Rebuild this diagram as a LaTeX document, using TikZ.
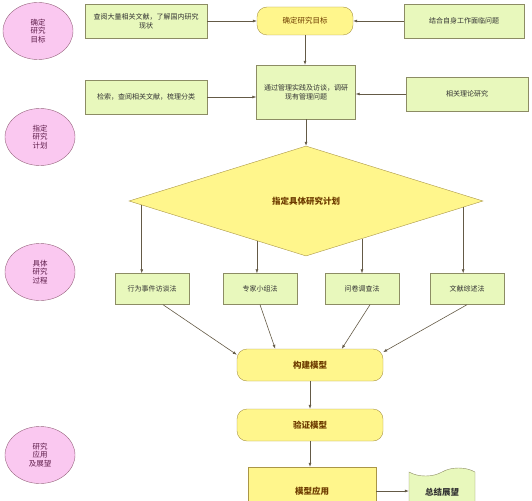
\documentclass[tikz,border=0pt]{standalone}
\usepackage{fontspec}
\setmainfont{Noto Sans CJK SC}
\usepackage{xcolor}
\usepackage{tikz}
\usetikzlibrary{arrows.meta,calc,shapes.geometric,shapes.symbols}
\definecolor{pinkfill}{RGB}{250,200,240}
\definecolor{pinkline}{RGB}{150,100,125}
\definecolor{pinktext}{RGB}{95,30,75}
\definecolor{greenfill}{RGB}{232,248,188}
\definecolor{greenline}{RGB}{140,140,100}
\definecolor{yelfill}{RGB}{255,246,140}
\definecolor{yelline}{RGB}{170,150,70}
\definecolor{yeltext}{RGB}{110,60,0}
\definecolor{arrline}{RGB}{100,90,70}
\tikzset{
  stage/.style={ellipse, draw=pinkline, fill=pinkfill, minimum width=70pt, minimum height=57pt, inner sep=0pt, text=pinktext, font=\fontsize{7.5}{8.5}\selectfont, align=center},
  task/.style={draw=greenline, fill=greenfill, minimum width=122pt, minimum height=34pt, inner sep=2pt, text=black!80, font=\fontsize{7}{9}\selectfont, align=center},
  goal/.style={draw=yelline, fill=yelfill, rounded corners=10pt, minimum width=146pt, minimum height=32pt, inner sep=2pt, text=yeltext, font=\fontsize{8.5}{10}\selectfont\bfseries, align=center},
  plan/.style={diamond, draw=yelline, fill=yelfill, minimum width=354pt, minimum height=110pt, inner sep=0pt, text=yeltext, font=\fontsize{8.5}{10}\selectfont\bfseries},
  arr/.style={-{Latex[length=4pt,width=3pt]}, arrline, line width=0.6pt},
}
\begin{document}
\begin{tikzpicture}[x=1pt,y=-1pt]
  \useasboundingbox (0,0) rectangle (532,500);
  \clip (0,0) rectangle (532,500);
  % stages on the left
  \node[stage] (s1) at (38,31) {确定\\研究\\目标};
  \node[stage] (s2) at (40,137) {指定\\研究\\计划};
  \node[stage] (s3) at (40,272) {具体\\研究\\过程};
  \node[stage] (s4) at (40,455) {研究\\应用\\及展望};
  % aim and survey
  \node[task] (t1) at (146,21) {查阅大量相关文献，了解国内研究\\现状};
  \node[goal, minimum width=96pt, minimum height=28pt, font=\fontsize{7.5}{9}\selectfont] (aim) at (305,21) {确定研究目标};
  \node[task, minimum width=120pt] (t2) at (464,21) {结合自身工作面临问题};
  \node[task] (t3) at (146,97) {检索，查阅相关文献，梳理分类};
  \node[task, minimum width=99pt, minimum height=54pt] (survey) at (306,92) {通过管理实践及访谈，调研\\现有管理问题};
  \node[task] (t4) at (467,94) {相关理论研究};
  \node[plan] (plan) at (306,201) {指定具体研究计划};
  % methods
  \foreach \x/\name/\txt in {152/m1/行为事件访谈法, 260/m2/专家小组法, 362/m3/问卷调查法, 467/m4/文献综述法}
    \node[task, minimum width=74pt, minimum height=31pt] (\name) at (\x,289) {\txt};
  % model
  \node[goal] (build) at (310,365) {构建模型};
  \node[goal] (check) at (310,425) {验证模型};
  \node[goal, rounded corners=0pt, minimum width=128pt, minimum height=48pt] (apply) at (312,491) {模型应用};
  \node[tape, tape bend top=in and out, tape bend bottom=none, tape bend height=8pt, draw=greenline, fill=greenfill, minimum width=66pt, minimum height=40pt, inner sep=0pt, font=\fontsize{8.5}{10}\selectfont\bfseries, text=black!80] (review) at (442,492) {总结展望};
  % connectors
  \draw[arr] (t1) -- (aim);
  \draw[arr] (t2) -- (aim);
  \draw[arr] (aim.south) -- (aim.south |- survey.north);
  \draw[arr] (t3.east) -- (t3.east -| survey.west);
  \draw[arr] (t4.west) -- (t4.west -| survey.east);
  \draw[arr] (survey.south) -- (plan.north);
  \coordinate (d1) at ($(plan.west)!0.073!(plan.south)$);
  \coordinate (d2) at ($(plan.west)!0.723!(plan.south)$);
  \coordinate (d3) at ($(plan.south)!0.316!(plan.east)$);
  \coordinate (d4) at ($(plan.south)!0.887!(plan.east)$);
  \foreach \d/\m in {d1/m1, d2/m2, d3/m3, d4/m4}
    \draw[arr] (\d) -- (\d |- \m.north);
  \draw[arr] (m1.-55) -- (build.172);
  \draw[arr] (m2.south) -- (build.155);
  \draw[arr] (m3.-63) -- (build.27);
  \draw[arr] (m4.south) -- (build.10);
  \draw[arr] (build) -- (check);
  \draw[arr] (check.south) -- (check.south |- apply.north);
  \draw[arr] (apply.east) -- (apply.east -| review.west);
\end{tikzpicture}
\end{document}
